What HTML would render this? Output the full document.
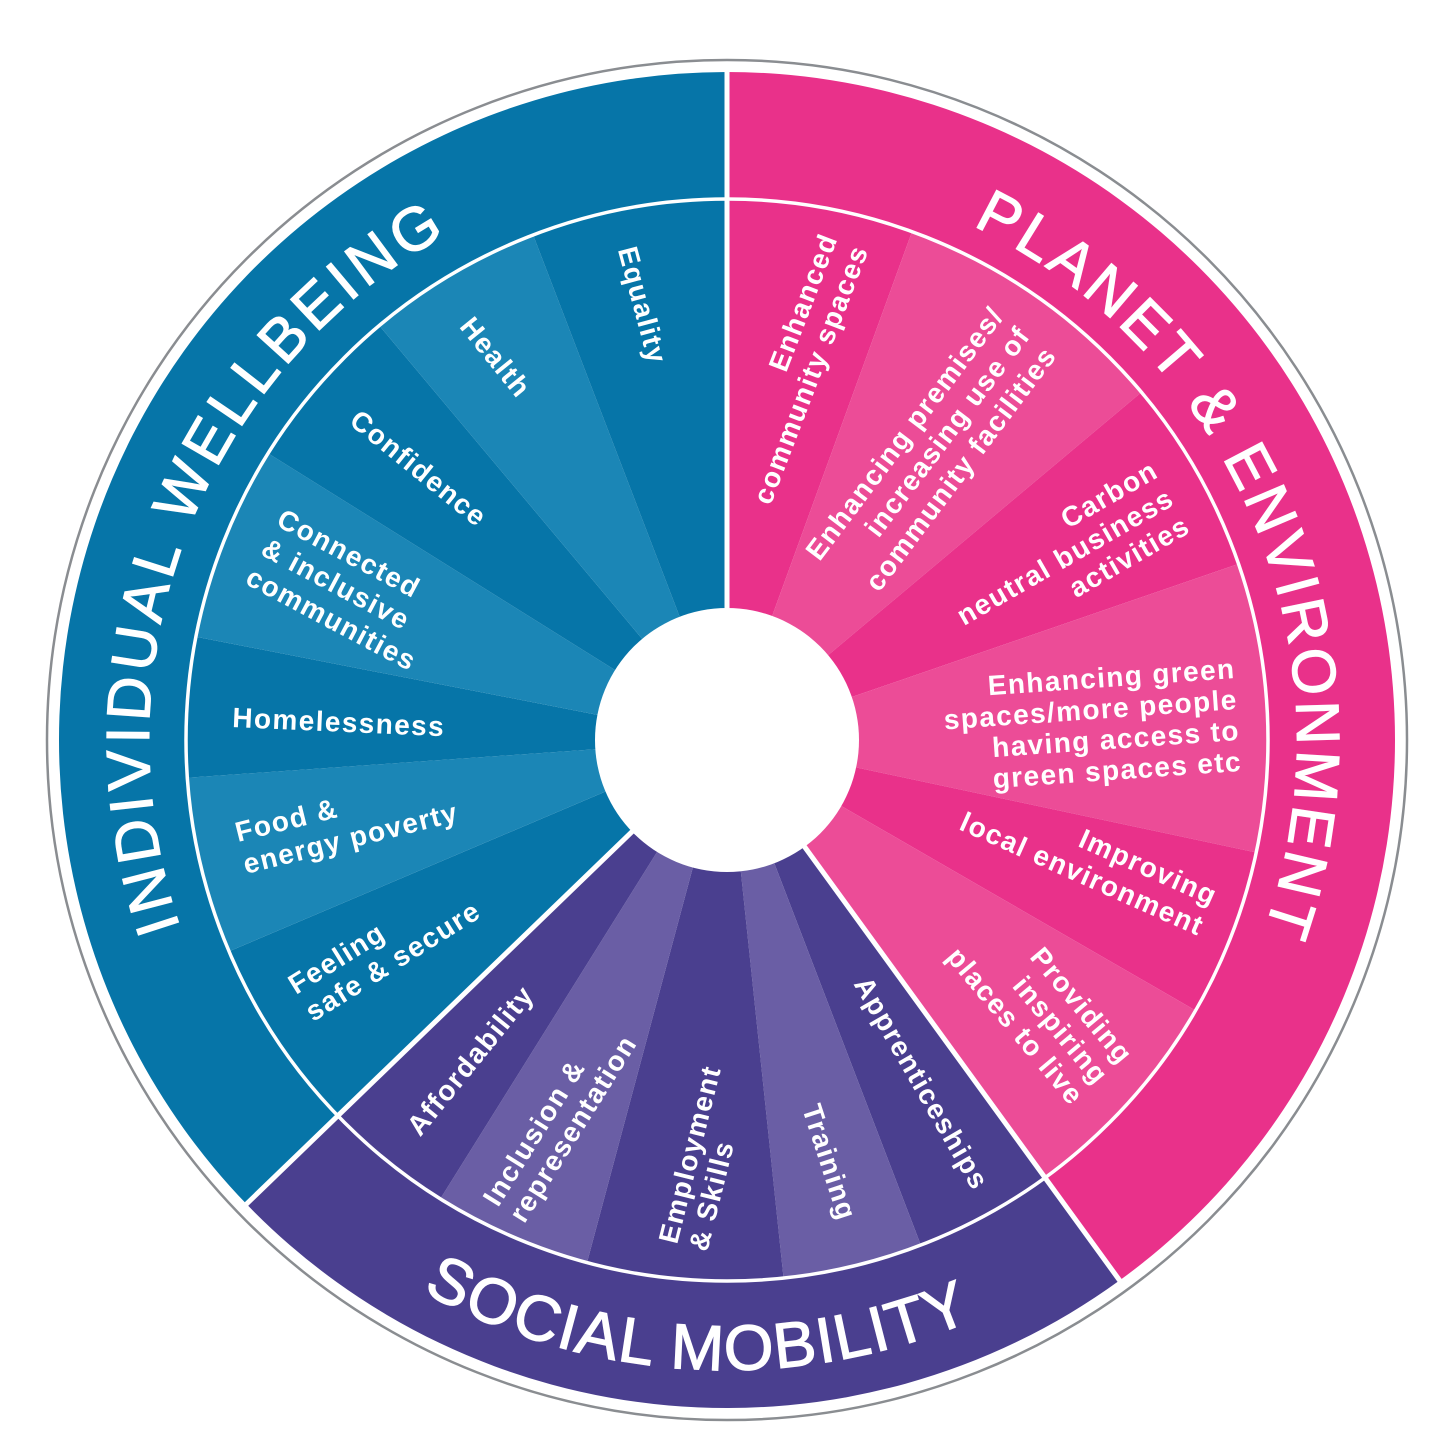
<!DOCTYPE html>
<html><head><meta charset="utf-8"><style>
html,body{margin:0;padding:0;background:#fff;}
svg{display:block;}
.l{font-family:"Liberation Sans",sans-serif;font-weight:bold;font-size:28px;fill:#fff;letter-spacing:1.4px;}
.t{font-family:"Liberation Sans",sans-serif;font-weight:normal;fill:#fff;stroke:#fff;stroke-width:1.2px;}
</style></head><body>
<svg id="s" width="1456" height="1456" viewBox="0 0 1456 1456" xmlns="http://www.w3.org/2000/svg">
<circle cx="727" cy="740" r="680" fill="#fff" stroke="#8a8d91" stroke-width="2.5"/>
<g id="w"></g>
<defs>
<path id="pIW" d=""/>
<path id="pPE" d=""/>
<path id="pSM" d=""/>
</defs>
<text class="t" font-size="61"><textPath href="#pIW" startOffset="50%" text-anchor="middle" textLength="805" lengthAdjust="spacing">INDIVIDUAL WELLBEING</textPath></text>
<text class="t" font-size="61"><textPath href="#pPE" startOffset="50%" text-anchor="middle" textLength="835" lengthAdjust="spacing">PLANET &amp; ENVIRONMENT</textPath></text>
<text class="t" font-size="64"><textPath href="#pSM" startOffset="50%" text-anchor="middle" textLength="570" lengthAdjust="spacing">SOCIAL MOBILITY</textPath></text>

<!-- blue labels -->
<text class="l" text-anchor="middle" transform="translate(643,305) rotate(75)" dy="10">Equality</text>
<text class="l" text-anchor="middle" transform="translate(496,357) rotate(51)" dy="10">Health</text>
<text class="l" text-anchor="middle" transform="translate(419,468) rotate(39)" dy="10">Confidence</text>
<text class="l" transform="translate(275,525) rotate(28)"><tspan x="0" y="0">Connected</tspan><tspan x="0" y="33">&amp; inclusive</tspan><tspan x="0" y="66">communities</tspan></text>
<text class="l" transform="translate(232,727) rotate(2.5)">Homelessness</text>
<text class="l" transform="translate(238,842) rotate(-14)"><tspan x="0" y="0">Food &amp;</tspan><tspan x="0" y="33">energy poverty</tspan></text>
<text class="l" transform="translate(296,995) rotate(-32)"><tspan x="0" y="0">Feeling</tspan><tspan x="0" y="32">safe &amp; secure</tspan></text>

<!-- purple labels -->
<text class="l" text-anchor="middle" transform="translate(470,1060) rotate(-51)" dy="10">Affordability</text>
<text class="l" transform="translate(498,1208) rotate(-58)"><tspan x="0" y="0">Inclusion &amp;</tspan><tspan x="0" y="31">representation</tspan></text>
<text class="l" transform="translate(677,1245) rotate(-76)"><tspan x="0" y="0">Employment</tspan><tspan x="0" y="31">&amp; Skills</tspan></text>
<text class="l" text-anchor="middle" transform="translate(830,1162) rotate(72)" dy="10">Training</text>
<text class="l" text-anchor="middle" transform="translate(922,1083) rotate(60)" dy="10">Apprenticeships</text>

<!-- pink labels -->
<text class="l" text-anchor="end" transform="translate(838,238) rotate(-69)"><tspan x="0" y="0">Enhanced</tspan><tspan x="0" y="33">community spaces</tspan></text>
<text class="l" text-anchor="end" transform="translate(1005,316) rotate(-53)"><tspan x="0" y="0">Enhancing premises/</tspan><tspan x="0" y="33">increasing use of</tspan><tspan x="0" y="66">community facilities</tspan></text>
<text class="l" text-anchor="end" transform="translate(1160,476) rotate(-30)"><tspan x="0" y="0">Carbon</tspan><tspan x="0" y="32">neutral business</tspan><tspan x="0" y="64">activities</tspan></text>
<text class="l" text-anchor="end" transform="translate(1236,678) rotate(-4)"><tspan x="0" y="0">Enhancing green</tspan><tspan x="0" y="31">spaces/more people</tspan><tspan x="0" y="62">having access to</tspan><tspan x="0" y="93">green spaces etc</tspan></text>
<text class="l" text-anchor="end" transform="translate(1212,906) rotate(24)"><tspan x="0" y="0">Improving</tspan><tspan x="0" y="33">local environment</tspan></text>
<text class="l" text-anchor="end" transform="translate(1120,1066) rotate(50)"><tspan x="0" y="0">Providing</tspan><tspan x="0" y="32">inspiring</tspan><tspan x="0" y="64">places to live</tspan></text>
</svg>
<script>
(function(){
var cx=727,cy=740,R=668,RI=541,RH=132;
var NS="http://www.w3.org/2000/svg";
function pt(b,r){var a=b*Math.PI/180;return [cx+r*Math.sin(a),cy-r*Math.cos(a)];}
function wedge(b1,b2,r1,r2){
 var p1=pt(b1,r2),p2=pt(b2,r2),p3=pt(b2,r1),p4=pt(b1,r1);
 var lg=(b2-b1)>180?1:0;
 return "M"+p4[0]+" "+p4[1]+"L"+p1[0]+" "+p1[1]+"A"+r2+" "+r2+" 0 "+lg+" 1 "+p2[0]+" "+p2[1]+"L"+p3[0]+" "+p3[1]+"A"+r1+" "+r1+" 0 "+lg+" 0 "+p4[0]+" "+p4[1]+"Z";
}
var g=document.getElementById("w");
function add(d,fill){var p=document.createElementNS(NS,"path");p.setAttribute("d",d);p.setAttribute("fill",fill);g.appendChild(p);return p;}
var BD="#0675a8",BL="#1b86b6",PD="#e9318a",PL="#ec4c97",UD="#4a3f8f",UL="#6a5ea5";
add(wedge(0,144,RI,R),PD);
add(wedge(144,226,RI,R),UD);
add(wedge(226,360,RI,R),BD);
var segs=[[0,20,PD],[20,50,PL],[50,71,PD],[71,102,PL],[102,120,PD],[120,144,PL],
[144,159,UD],[159,174,UL],[174,195,UD],[195,212,UL],[212,226,UD],
[226,247,BD],[247,266,BL],[266,281,BD],[281,302,BL],[302,320,BD],[320,339,BL],[339,360,BD]];
segs.forEach(function(s){add(wedge(s[0],s[1],RH-2,RI),s[2]);});
var c=document.createElementNS(NS,"circle");c.setAttribute("cx",cx);c.setAttribute("cy",cy);c.setAttribute("r",RI);c.setAttribute("fill","none");c.setAttribute("stroke","#fff");c.setAttribute("stroke-width","3.5");g.appendChild(c);
[0,144,226].forEach(function(b){var a=pt(b,RH-5),e=pt(b,R+3);var l=document.createElementNS(NS,"line");
l.setAttribute("x1",a[0]);l.setAttribute("y1",a[1]);l.setAttribute("x2",e[0]);l.setAttribute("y2",e[1]);l.setAttribute("stroke","#fff");l.setAttribute("stroke-width","5");g.appendChild(l);});
var h=document.createElementNS(NS,"circle");h.setAttribute("cx",cx);h.setAttribute("cy",cy);h.setAttribute("r",RH);h.setAttribute("fill","#fff");g.appendChild(h);
function arcCW(b1,b2,r){var a=pt(b1,r),e=pt(b2,r);return "M"+a[0]+" "+a[1]+"A"+r+" "+r+" 0 0 1 "+e[0]+" "+e[1];}
function arcCCW(b1,b2,r){var a=pt(b1,r),e=pt(b2,r);return "M"+a[0]+" "+a[1]+"A"+r+" "+r+" 0 0 0 "+e[0]+" "+e[1];}
document.getElementById("pIW").setAttribute("d",arcCW(215,367,578));
document.getElementById("pPE").setAttribute("d",arcCW(-8,143,570));
document.getElementById("pSM").setAttribute("d",arcCCW(253,113,630));
})();
</script>
</body></html>
